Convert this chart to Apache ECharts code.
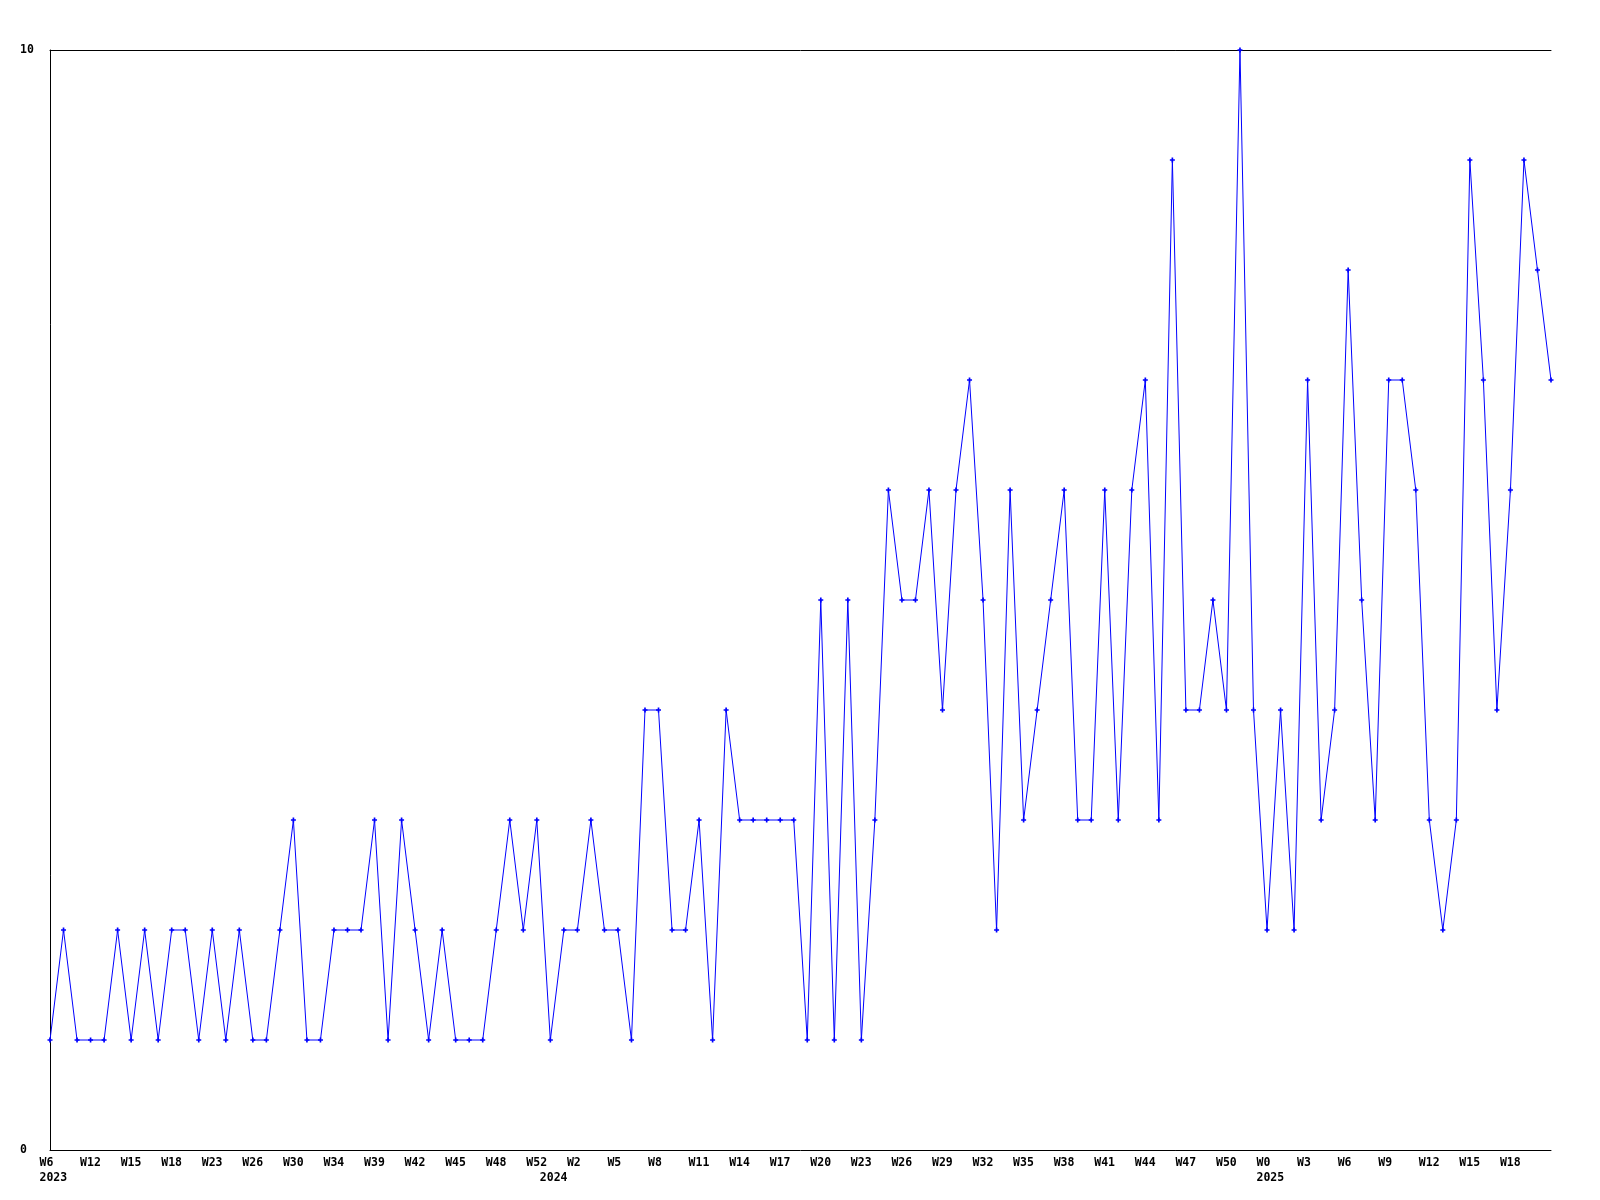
<!DOCTYPE html>
<html>
<head>
<meta charset="utf-8">
<script src="https://cdn.jsdelivr.net/npm/echarts@6.0.0/dist/echarts.min.js"></script>
<style>
html,body{margin:0;padding:0;background:#ffffff;}
#chart{width:1600px;height:1200px;}
</style>
</head>
<body>
<div id="chart"></div>
<script>
// Week categories (year + week number); only every third one is labelled on the axis
const categories = [
  "2023 W6","2023 W8","2023 W10","2023 W12","2023 W13","2023 W14","2023 W15","2023 W16","2023 W17","2023 W18",
  "2023 W20","2023 W21","2023 W23","2023 W24","2023 W25","2023 W26","2023 W27","2023 W28","2023 W30","2023 W31",
  "2023 W32","2023 W34","2023 W36","2023 W37","2023 W39","2023 W40","2023 W41","2023 W42","2023 W43","2023 W44",
  "2023 W45","2023 W46","2023 W47","2023 W48","2023 W49","2023 W50","2023 W52",
  "2024 W0","2024 W1","2024 W2","2024 W3","2024 W4","2024 W5","2024 W6","2024 W7","2024 W8","2024 W9",
  "2024 W10","2024 W11","2024 W12","2024 W13","2024 W14","2024 W15","2024 W16","2024 W17","2024 W18","2024 W19",
  "2024 W20","2024 W21","2024 W22","2024 W23","2024 W24","2024 W25","2024 W26","2024 W27","2024 W28","2024 W29",
  "2024 W30","2024 W31","2024 W32","2024 W33","2024 W34","2024 W35","2024 W36","2024 W37","2024 W38","2024 W39",
  "2024 W40","2024 W41","2024 W42","2024 W43","2024 W44","2024 W45","2024 W46","2024 W47","2024 W48","2024 W49",
  "2024 W50","2024 W51","2024 W52",
  "2025 W0","2025 W1","2025 W2","2025 W3","2025 W4","2025 W5","2025 W6","2025 W7","2025 W8","2025 W9",
  "2025 W10","2025 W11","2025 W12","2025 W13","2025 W14","2025 W15","2025 W16","2025 W17","2025 W18","2025 W19",
  "2025 W20","2025 W21"
];

// Weekly counts
const values = [
  1,2,1,1,1,2,1,2,1,2,
  2,1,2,1,2,1,1,2,3,1,
  1,2,2,2,3,1,3,2,1,2,
  1,1,1,2,3,2,3,1,2,2,
  3,2,2,1,4,4,2,2,3,1,
  4,3,3,3,3,3,1,5,1,5,
  1,3,6,5,5,6,4,6,7,5,
  2,6,3,4,5,6,3,3,6,3,
  6,7,3,9,4,4,5,4,10,4,
  2,4,2,7,3,4,8,5,3,7,
  7,6,3,2,3,9,7,4,6,9,
  8,7
];

const yMin = 0;
const yMax = 10;
const yStep = 10;
const labelEvery = 3;

const chart = echarts.init(document.getElementById('chart'), null, {renderer: 'canvas'});

const labelFont = {
  fontFamily: 'DejaVu Sans Mono',
  fontWeight: 'bold',
  fontSize: 11.5,
  color: '#000000'
};

const boxStyle = Object.assign({width: 21, align: 'left', lineHeight: 16}, labelFont);

function yearOf(i) { return categories[i].split(' ')[0]; }
function weekOf(i) { return categories[i].split(' ')[1]; }

function showWeek(index) {
  return index % labelEvery === 0 && index + labelEvery < categories.length;
}
function showYear(index) {
  return index === 0 || yearOf(index) !== yearOf(index - 1);
}

const option = {
  animation: false,
  backgroundColor: '#ffffff',
  grid: {left: 50, right: 49, top: 50, bottom: 50, containLabel: false},
  xAxis: [
    {
      type: 'category',
      data: categories,
      boundaryGap: false,
      axisLine: {show: true, lineStyle: {color: '#000000', width: 1}},
      axisTick: {show: false},
      splitLine: {show: false},
      axisLabel: Object.assign({
        interval: function (index) { return showWeek(index); },
        margin: 5,
        lineHeight: 16,
        formatter: function (value, index) { return '{a|' + weekOf(index) + '}'; },
        rich: {a: boxStyle}
      }, labelFont)
    },
    {
      type: 'category',
      data: categories,
      position: 'bottom',
      boundaryGap: false,
      axisLine: {show: false},
      axisTick: {show: false},
      splitLine: {show: false},
      axisLabel: Object.assign({
        interval: function (index) { return showYear(index); },
        margin: 20,
        lineHeight: 16,
        formatter: function (value, index) { return '{a|' + yearOf(index) + '}'; },
        rich: {a: boxStyle}
      }, labelFont)
    },
    {
      type: 'category',
      data: categories,
      position: 'top',
      boundaryGap: false,
      axisLine: {show: true, lineStyle: {color: '#000000', width: 1}},
      axisTick: {show: false},
      axisLabel: {show: false},
      splitLine: {show: false}
    }
  ],
  yAxis: {
    type: 'value',
    min: yMin,
    max: yMax,
    interval: yStep,
    axisLine: {show: true, lineStyle: {color: '#000000', width: 1}},
    axisTick: {show: false},
    splitLine: {show: false},
    axisLabel: Object.assign({margin: 30, align: 'left'}, labelFont)
  },
  series: [
    {
      type: 'line',
      data: values,
      xAxisIndex: 0,
      lineStyle: {color: '#0000ff', width: 1},
      itemStyle: {color: '#0000ff'},
      symbol: 'path://M2,0 H4 V2 H6 V4 H4 V6 H2 V4 H0 V2 H2 Z',
      symbolSize: 5,
      showAllSymbol: true,
      clip: true,
      emphasis: {disabled: true}
    }
  ]
};

chart.setOption(option);
</script>
</body>
</html>
